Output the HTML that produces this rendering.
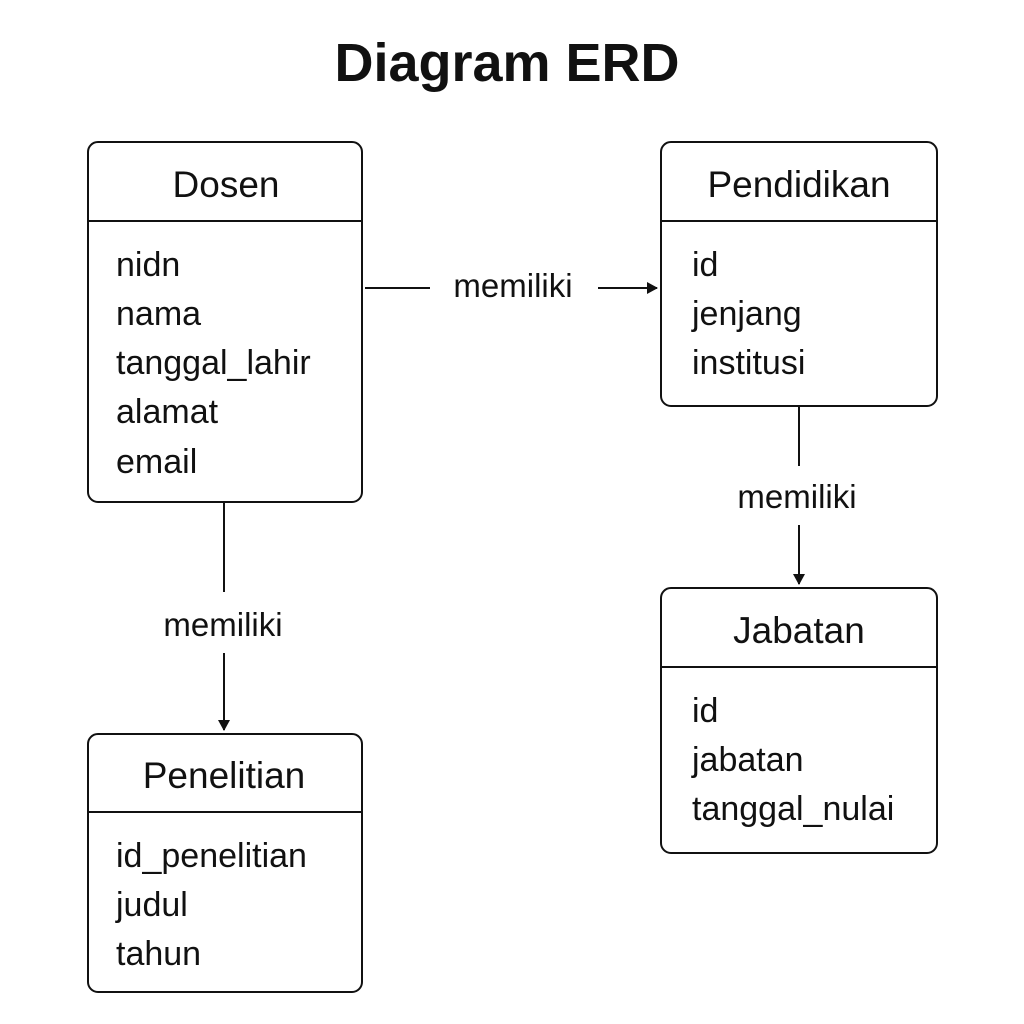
<!DOCTYPE html>
<html><head><meta charset="utf-8"><style>
html,body{margin:0;padding:0;background:#fff;}
svg{display:block;font-family:"Liberation Sans",Arial,sans-serif;}
</style></head><body>
<svg width="1024" height="1024" viewBox="0 0 1024 1024">
<defs><marker id="a" markerWidth="12" markerHeight="14" refX="10" refY="7" orient="auto" markerUnits="userSpaceOnUse"><path d="M0,1 L11,7 L0,13 Z" fill="#111"/></marker></defs>
<rect width="1024" height="1024" fill="#fff"/>
<text x="507" y="81" font-size="54" font-weight="bold" text-anchor="middle" fill="#111">Diagram ERD</text>
<g fill="none" stroke="#111" stroke-width="2">
<rect x="88" y="142" width="274" height="360" rx="10"/><line x1="88" y1="221" x2="362" y2="221"/>
<rect x="661" y="142" width="276" height="264" rx="10"/><line x1="661" y1="221" x2="937" y2="221"/>
<rect x="661" y="588" width="276" height="265" rx="10"/><line x1="661" y1="667" x2="937" y2="667"/>
<rect x="88" y="734" width="274" height="258" rx="10"/><line x1="88" y1="812" x2="362" y2="812"/>
<line x1="365" y1="288" x2="430" y2="288"/>
<line x1="598" y1="288" x2="657" y2="288" marker-end="url(#a)"/>
<line x1="799" y1="407" x2="799" y2="466"/>
<line x1="799" y1="525" x2="799" y2="584" marker-end="url(#a)"/>
<line x1="224" y1="503" x2="224" y2="592"/>
<line x1="224" y1="653" x2="224" y2="730" marker-end="url(#a)"/>
</g>
<g fill="#111" font-size="37" text-anchor="middle">
<text x="226" y="197">Dosen</text>
<text x="799" y="197">Pendidikan</text>
<text x="799" y="643">Jabatan</text>
<text x="224" y="788">Penelitian</text>
</g>
<g fill="#111" font-size="33" text-anchor="middle">
<text x="513" y="297">memiliki</text>
<text x="797" y="508">memiliki</text>
<text x="223" y="636">memiliki</text>
</g>
<g fill="#111" font-size="34">
<text x="116" y="276">nidn</text>
<text x="116" y="325">nama</text>
<text x="116" y="374">tanggal_lahir</text>
<text x="116" y="423">alamat</text>
<text x="116" y="473">email</text>
<text x="692" y="276">id</text>
<text x="692" y="325">jenjang</text>
<text x="692" y="374">institusi</text>
<text x="692" y="722">id</text>
<text x="692" y="771">jabatan</text>
<text x="692" y="820">tanggal_nulai</text>
<text x="116" y="867">id_penelitian</text>
<text x="116" y="916">judul</text>
<text x="116" y="965">tahun</text>
</g>
</svg>
</body></html>
